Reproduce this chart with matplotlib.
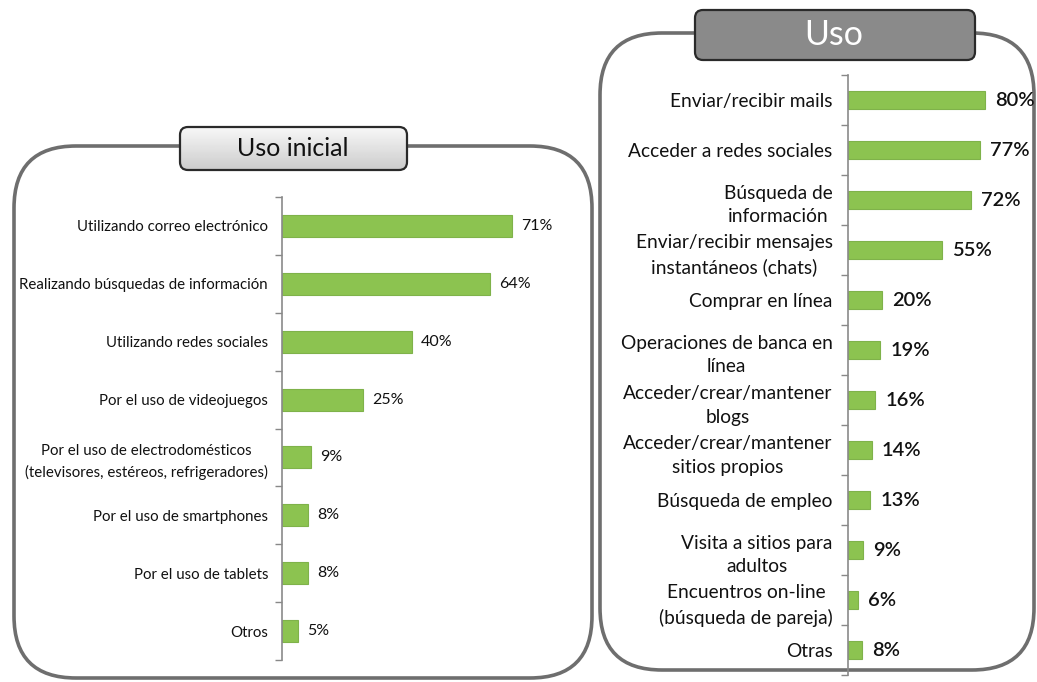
import matplotlib
matplotlib.use("Agg")
import matplotlib.pyplot as plt
from matplotlib.patches import FancyBboxPatch
import numpy as np

# data
left_labels = [
    "Utilizando correo electrónico",
    "Realizando búsquedas de información",
    "Utilizando redes sociales",
    "Por el uso de videojuegos",
    "Por el uso de electrodomésticos\n(televisores, estéreos, refrigeradores)",
    "Por el uso de smartphones",
    "Por el uso de tablets",
    "Otros",
]
left_values = [71, 64, 40, 25, 9, 8, 8, 5]

right_labels = [
    "Enviar/recibir mails",
    "Acceder a redes sociales",
    "Búsqueda de\ninformación",
    "Enviar/recibir mensajes\ninstantáneos (chats)",
    "Comprar en línea",
    "Operaciones de banca en\nlínea",
    "Acceder/crear/mantener\nblogs",
    "Acceder/crear/mantener\nsitios propios",
    "Búsqueda de empleo",
    "Visita a sitios para\nadultos",
    "Encuentros on-line\n(búsqueda de pareja)",
    "Otras",
]
right_values = [80, 77, 72, 55, 20, 19, 16, 14, 13, 9, 6, 8]

W, H = 1037, 682
GREEN = "#8cc350"
SANS = ["Lato", "DejaVu Sans"]

fig = plt.figure(figsize=(W / 100, H / 100), dpi=100)
fig.patch.set_facecolor("white")

# background layer in pixel coordinates for the rounded panels
bg = fig.add_axes([0, 0, 1, 1])
bg.set_xlim(0, W)
bg.set_ylim(H, 0)
bg.axis("off")

def panel(x0, y0, x1, y1, r):
    bg.add_patch(FancyBboxPatch((x0, y0), x1 - x0, y1 - y0,
                                boxstyle=f"round,pad=0,rounding_size={r}",
                                fc="white", ec="#6e6e6e", lw=2.6, zorder=1))

panel(14, 146, 592, 678, 62)
panel(600, 33, 1034, 670, 62)

# title boxes
tb = FancyBboxPatch((180, 127), 227, 43, boxstyle="round,pad=0,rounding_size=8",
                    fc="none", ec="#2a2a2a", lw=1.6, zorder=5)
bg.add_patch(tb)
grad = np.linspace(0.97, 0.80, 50).reshape(-1, 1)
im = bg.imshow(grad, extent=(180, 407, 170, 127), cmap="gray", vmin=0, vmax=1,
               aspect="auto", zorder=3)
im.set_clip_path(tb)
bg.text(293, 149, "Uso inicial", ha="center", va="center", fontsize=18,
        family=SANS, color="#111111", zorder=6)

bg.add_patch(FancyBboxPatch((695, 10), 280, 50, boxstyle="round,pad=0,rounding_size=8",
                            fc="#8a8a8a", ec="#2a2a2a", lw=1.6, zorder=3))
bg.text(834, 35, "Uso", ha="center", va="center", fontsize=24.5,
        family=SANS, color="white", zorder=4)
bg.set_xlim(0, W)
bg.set_ylim(H, 0)


def bar_chart(rect_px, labels, values, xmax, bar_h, lab_size,
              val_size, val_weight, pad, offset_px, linesp):
    x0, y0, x1, y1 = rect_px
    ax = fig.add_axes([x0 / W, (H - y1) / H, (x1 - x0) / W, (y1 - y0) / H])
    ax.patch.set_alpha(0)
    n = len(labels)
    y = np.arange(n)
    ax.barh(y, values, height=bar_h, color=GREEN, edgecolor="#7fb24a", lw=0.8, zorder=2)
    ax.set_xlim(0, xmax)
    ax.set_ylim(n - 0.5, -0.5)
    ax.set_yticks(y)
    ax.set_yticklabels(labels)
    ax.set_yticks(np.arange(n + 1) - 0.5, minor=True)
    ax.tick_params(axis="y", which="major", length=0, pad=pad)
    ax.tick_params(axis="y", which="minor", length=5, color="#888888", width=1)
    for lbl in ax.get_yticklabels():
        lbl.set_family(SANS)
        lbl.set_fontsize(lab_size)
        lbl.set_multialignment("center")
        lbl.set_linespacing(linesp)
        lbl.set_color("#111111")
    ax.set_xticks([])
    for s in ["top", "right", "bottom"]:
        ax.spines[s].set_visible(False)
    ax.spines["left"].set_color("#8a8a8a")
    ax.spines["left"].set_linewidth(1.2)
    for yi, v in zip(y, values):
        ax.annotate(f"{v}%", (v, yi), xytext=(offset_px * 0.72, 0), textcoords="offset points",
                    va="center", ha="left", fontsize=val_size, weight=val_weight,
                    family=SANS, color="#111111")
    return ax


ax1 = bar_chart((282, 197, 574, 660), left_labels, left_values, 90, 0.38,
                10.8, 11.5, "normal", 10, 9, 1.55)
ax2 = bar_chart((848, 75, 1019, 675), right_labels, right_values, 100, 0.36,
                13.8, 14.5, "semibold", 11, 10, 1.5)

fig.savefig("out.png", dpi=100, facecolor="white")
